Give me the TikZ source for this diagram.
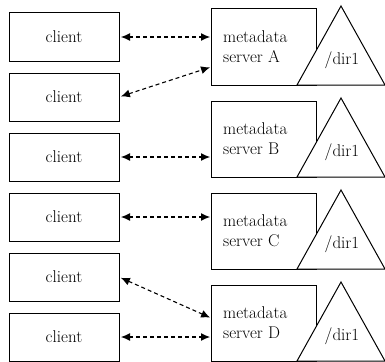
\documentclass[tikz,border=0pt]{standalone}
\usetikzlibrary{arrows.meta,calc}
\begin{document}
\begin{tikzpicture}[x=1pt,y=-1pt,
  box/.style={draw,line width=1pt,inner sep=0pt,outer sep=0pt,font=\fontsize{17}{20}\selectfont},
  clientbox/.style={box,minimum width=110pt,minimum height=48pt,anchor=north west},
  serverbox/.style={box,minimum width=105pt,minimum height=76pt,anchor=north west},
  lbl/.style={inner sep=0pt,font=\fontsize{17}{20}\selectfont,align=left},
  tri/.style={draw,fill=white,line width=1pt,line join=miter},
  conn/.style={line width=1.1pt,dash pattern=on 4pt off 3pt,{Latex[length=9pt,width=8pt]}-{Latex[length=9pt,width=8pt]},shorten <=2pt,shorten >=1pt}]
\useasboundingbox (0,0) rectangle (385,361);
\clip (0,0) rectangle (385,361);
% clients
\node[clientbox] (c1) at (9,13) {client};
\node[clientbox] (c2) at (9,73) {client};
\node[clientbox] (c3) at (9,133) {client};
\node[clientbox] (c4) at (9,193) {client};
\node[clientbox] (c5) at (9,253) {client};
\node[clientbox] (c6) at (9,313) {client};
% servers
\foreach \n/\k in {A/0,B/1,C/2,D/3}{
  \node[serverbox] (s\n) at (211,9+92*\k) {};
  \node[lbl,anchor=west] (t\n) at ([xshift=12pt]s\n.west) {metadata\\server \n};
  \draw[tri] (341,6+92*\k) coordinate (ap\n) -- (297,85+92*\k) -- (385,85+92*\k) -- cycle;
  \node[lbl] (d\n) at (342,60+92*\k) {/dir1};
}
% connectors
\draw[conn] (c1.east) -- (c1.east -| sA.west);
\draw[conn] (c2.east) -- ([yshift=-20pt]sA.west);
\draw[conn] (c3.east) -- (c3.east -| sB.west);
\draw[conn] (c4.east) -- (c4.east -| sC.west);
\draw[conn] (c5.east) -- ([yshift=5pt]sD.west);
\draw[conn] (c6.east) -- (c6.east -| sD.west);
\end{tikzpicture}
\end{document}
